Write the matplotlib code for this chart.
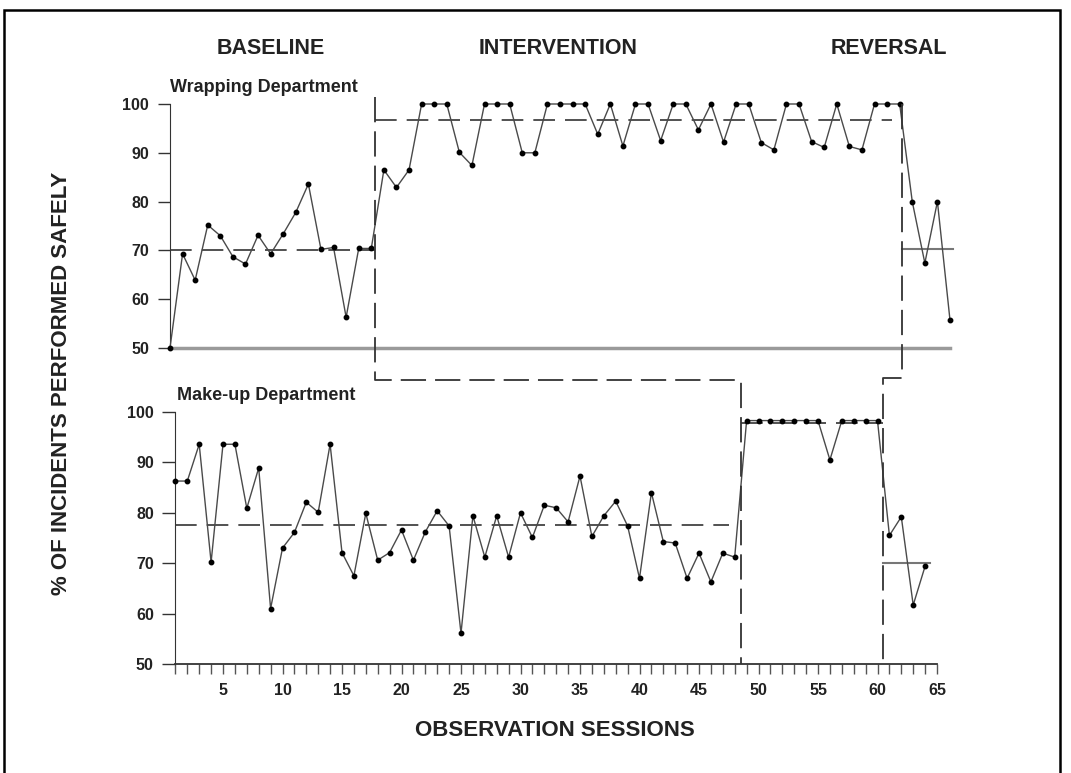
import matplotlib.pyplot as plt
from matplotlib.lines import Line2D
from matplotlib.patches import Rectangle
import numpy as np

plt.rcParams['font.family'] = ['Liberation Sans', 'DejaVu Sans']

W, H = 1071, 773

# Wrapping department (sessions 1-63)
wrap_base = [50, 69.3, 63.9, 75.2, 73, 68.7, 67.2, 73.1, 69.3, 73.4, 77.8, 83.6,
             70.2, 70.6, 56.3, 70.4, 70.4]
wrap_int = [86.5, 82.9, 86.5, 100, 100, 100, 90.1, 87.4, 100, 100, 100, 90, 90,
            100, 100, 100, 100, 93.8, 100, 91.4, 100, 100, 92.5, 100, 100, 94.7,
            100, 92.2, 100, 100, 92.1, 90.6, 100, 100, 92.3, 91.1, 100, 91.3,
            90.6, 100, 100, 100]
wrap_rev = [80, 67.4, 80, 55.7]

# Make-up department (sessions 1-64)
makeup_base = [86.3, 86.3, 93.6, 70.2, 93.6, 93.6, 80.9, 88.9, 61.0, 73, 76.1,
               82.1, 80.1, 93.6, 72.1, 67.5, 79.9, 70.6, 72.1, 76.6, 70.6, 76.2,
               80.4, 77.4, 56.1, 79.4, 71.2, 79.4, 71.2, 80.0, 75.1, 81.5, 81.0,
               78.2, 87.3, 75.3, 79.4, 82.3, 77.4, 67.0, 84.0, 74.3, 74.0, 67.0,
               72.0, 66.3, 72.0, 71.2]
makeup_int = [98.3, 98.3, 98.3, 98.3, 98.3, 98.3, 98.3, 90.5, 98.3, 98.3, 98.3, 98.3]
makeup_rev = [75.5, 79.2, 61.7, 69.4]

wrap_means = [70.0, 96.8, 70.3]
makeup_means = [77.6, 97.8, 70.1]
wrap_phase = [17.3, 59.2]
makeup_phase = [48.5, 60.5]

yticks = [50, 60, 70, 80, 90, 100]
xticks = list(range(5, 70, 5))

phases = ['BASELINE', 'INTERVENTION', 'REVERSAL']


def px(x, y):
    return x / W, 1 - y / H


wrap = wrap_base + wrap_int + wrap_rev
makeup = makeup_base + makeup_int + makeup_rev
wrap_x = np.arange(1, len(wrap) + 1)
makeup_x = np.arange(1, len(makeup) + 1)

fig = plt.figure(figsize=(W / 100, H / 100), dpi=100)

line_c = '#4a4a4a'
dash_c = '#333333'
dash = (13, 6)

# ------------------ top panel
ax1 = fig.add_axes([170 / W, 1 - 348 / H, 780 / W, 244 / H])
ax1.set_xlim(1, 63)
ax1.set_ylim(50, 100)
ax1.plot(wrap_x, wrap, color=line_c, lw=1, marker='o', ms=3.2,
         mfc='black', mec='black', clip_on=False, zorder=3)
ax1.plot([1, wrap_phase[0]], [wrap_means[0]] * 2, color=dash_c, lw=1.2, dashes=dash)
ax1.plot([wrap_phase[0], wrap_phase[1] - 0.8], [wrap_means[1]] * 2, color=dash_c,
         lw=1.2, dashes=dash)
ax1.plot([wrap_phase[1], 63.2], [wrap_means[2]] * 2, color='#777777', lw=1.5,
         clip_on=False)
ax1.set_yticks(yticks)
ax1.set_xticks([])
for s in ['top', 'right']:
    ax1.spines[s].set_visible(False)
ax1.spines['left'].set_color('#333333')
ax1.spines['bottom'].set_color('#9a9a9a')
ax1.spines['bottom'].set_linewidth(2.5)
ax1.tick_params(axis='y', length=9, width=1, color='#333333', pad=6,
                labelsize=11.5, labelcolor='#222222')
for lab in ax1.get_yticklabels():
    lab.set_fontweight('bold')

# ------------------ bottom panel
ax2 = fig.add_axes([175.4 / W, 1 - 664 / H, (937 - 175.4) / W, 252 / H])
ax2.set_xlim(1, 65)
ax2.set_ylim(50, 100)
ax2.plot(makeup_x, makeup, color=line_c, lw=1, marker='o', ms=3.2,
         mfc='black', mec='black', clip_on=False, zorder=3)
ax2.plot([1, makeup_phase[0] - 1], [makeup_means[0]] * 2, color=dash_c, lw=1.2,
         dashes=dash)
ax2.plot([makeup_phase[0], makeup_phase[1]], [makeup_means[1]] * 2, color=dash_c,
         lw=1.2, dashes=dash)
ax2.plot([makeup_phase[1], 64.4], [makeup_means[2]] * 2, color='#777777', lw=1.5)
ax2.set_yticks(yticks)
ax2.set_xticks(xticks)
ax2.set_xticks(range(1, 66), minor=True)
for s in ['top', 'right']:
    ax2.spines[s].set_visible(False)
ax2.spines['left'].set_color('#333333')
ax2.spines['bottom'].set_color('#333333')
ax2.spines['bottom'].set_linewidth(1.3)
ax2.tick_params(axis='y', length=9.5, width=1, color='#333333', pad=6,
                labelsize=11.5, labelcolor='#222222')
ax2.tick_params(axis='x', which='both', length=7, width=1, color='#555555',
                pad=7, labelsize=11.5, labelcolor='#222222')
for lab in ax2.get_yticklabels() + ax2.get_xticklabels():
    lab.set_fontweight('bold')

# ------------------ phase change lines across both panels
inv = fig.transFigure.inverted()
y_conn = [43.4, 43.8]
y_start = [101.5, 100]
for i in range(2):
    a = ax1.transData.transform((wrap_phase[i], y_start[i]))
    b = ax1.transData.transform((wrap_phase[i], y_conn[i]))
    d = ax2.transData.transform((makeup_phase[i], 50))
    pts = inv.transform([a, b, (d[0], b[1]), d])
    fig.add_artist(Line2D(pts[:, 0], pts[:, 1], color=dash_c, lw=1.3,
                          dashes=(14, 5)))

# ------------------ text
fig.text(*px(271, 48), phases[0], ha='center', va='center', fontsize=15.5,
         fontweight='bold', color='#222222')
fig.text(*px(558, 48), phases[1], ha='center', va='center', fontsize=15.5,
         fontweight='bold', color='#222222')
fig.text(*px(889, 48), phases[2], ha='center', va='center', fontsize=15.5,
         fontweight='bold', color='#222222')
fig.text(*px(170, 88), 'Wrapping Department', ha='left', va='center',
         fontsize=13, fontweight='bold', color='#222222')
fig.text(*px(177, 395), 'Make-up Department', ha='left', va='center',
         fontsize=13, fontweight='bold', color='#222222')
fig.text(*px(62, 383), '% OF INCIDENTS PERFORMED SAFELY', ha='center',
         va='center', rotation=90, fontsize=16, fontweight='bold',
         color='#222222')
fig.text(*px(555, 731), 'OBSERVATION SESSIONS', ha='center', va='center',
         fontsize=16, fontweight='bold', color='#222222')

# frame round the figure
fig.add_artist(Rectangle(px(4, 790), 1056 / W, 780 / H, fill=False,
                         edgecolor='black', lw=1.8, transform=fig.transFigure))

fig.savefig('out.png', dpi=100)
